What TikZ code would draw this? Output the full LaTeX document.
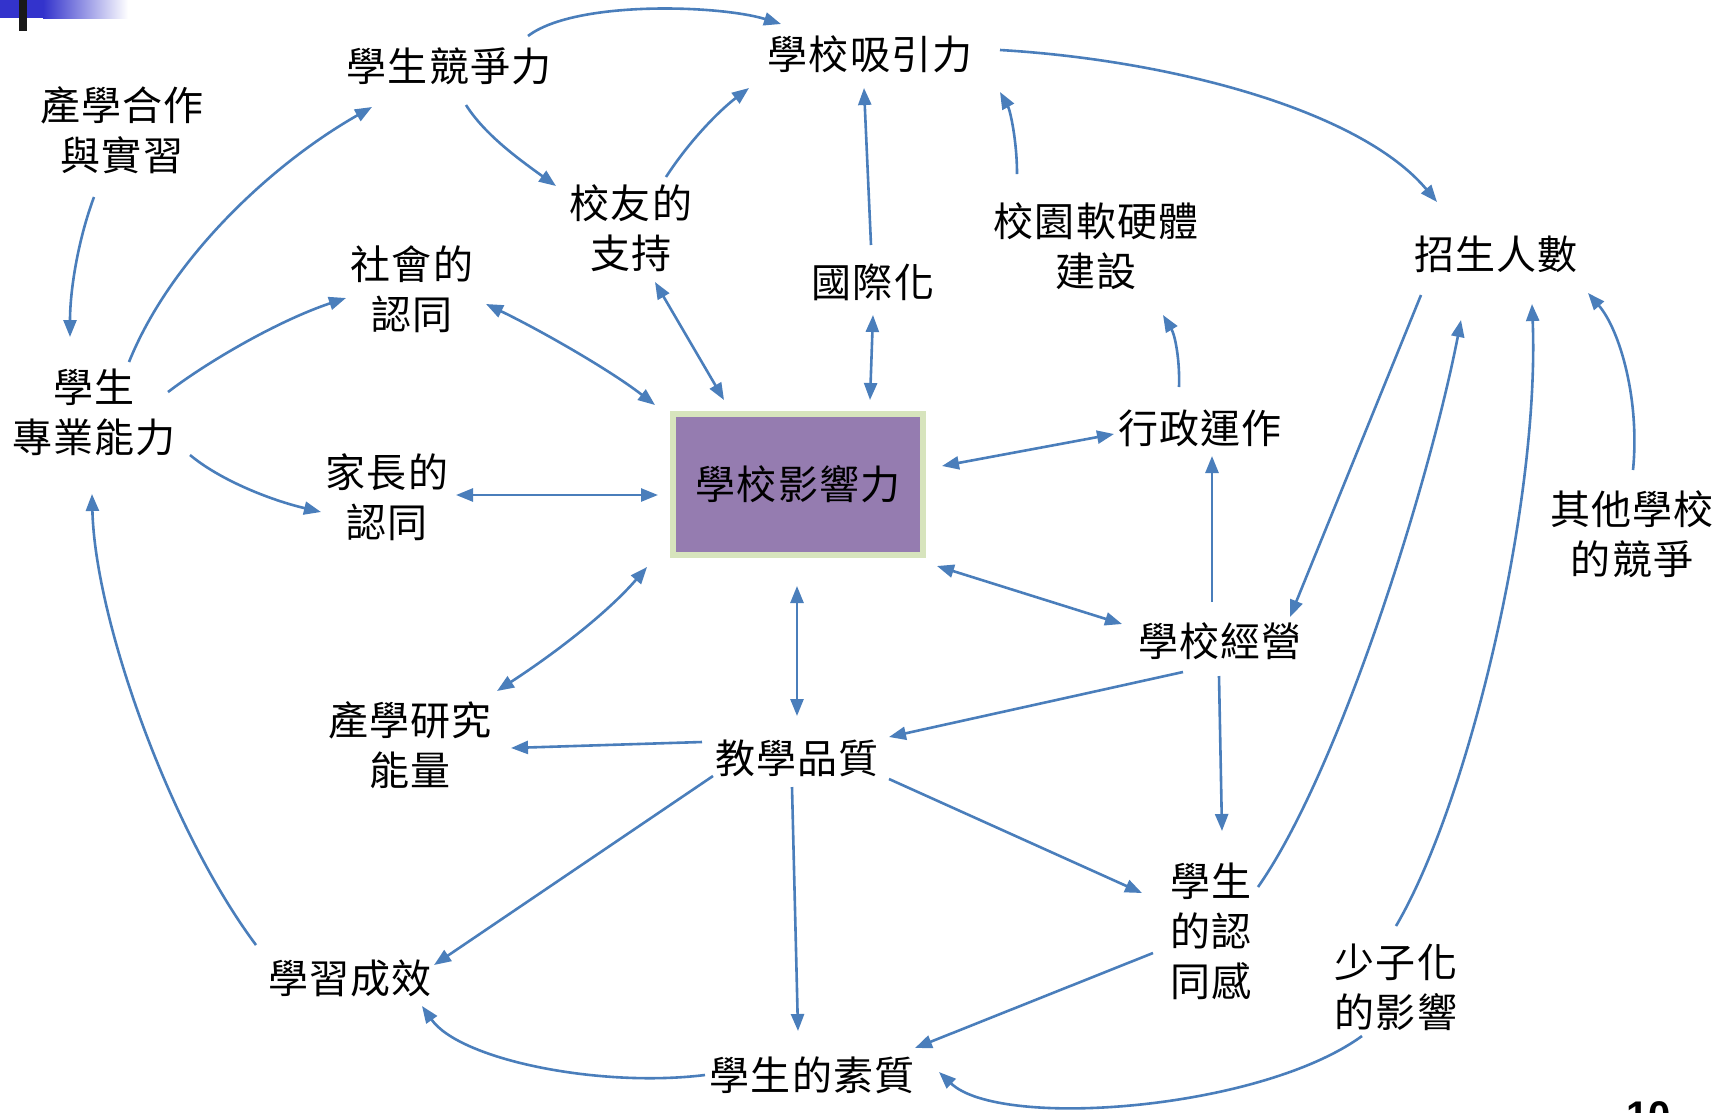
\documentclass[tikz,border=0pt]{standalone}
\usepackage{fontspec}
\newfontfamily\cjk[LetterSpace=3]{Noto Sans CJK TC}
\newfontfamily\numfont{Liberation Sans}
\usetikzlibrary{arrows.meta,calc}
\definecolor{arr}{RGB}{74,126,187}
\definecolor{boxfill}{RGB}{149,124,176}
\definecolor{boxborder}{RGB}{215,228,189}
\definecolor{barblue}{RGB}{51,51,204}
\begin{document}
\begin{tikzpicture}[x=1pt,y=-1pt,
  lbl/.style={font=\cjk\fontsize{40}{50}\selectfont, align=center, inner sep=0pt},
  con/.style={draw=arr, line width=2.6pt, -{Triangle[length=17pt,width=13pt]}},
  bi/.style={draw=arr, line width=2.6pt, {Triangle[length=17pt,width=13pt]}-{Triangle[length=17pt,width=13pt]}},
  centralbox/.style={lbl, draw=boxborder, line width=6pt, fill=boxfill, minimum width=250pt, minimum height=141pt}]
\useasboundingbox (0,0) rectangle (1733,1112);
% decoration top-left
\fill[barblue] (0,0) rectangle (44,18);
\shade[left color=barblue, right color=white] (43,0) rectangle (128,18);
\fill[black!90] (19,0) rectangle (27,31);
% page number
\node[font=\numfont\bfseries\fontsize{40}{48}\selectfont, anchor=base west, inner sep=0pt] (pg) at (1626,1129) {10};
% nodes
\node[lbl] (ca) at (122,130) {產學合作\\與實習};
\node[lbl] (jz) at (449,66) {學生競爭力};
\node[lbl] (xy) at (870,54) {學校吸引力};
\node[lbl] (xs) at (631,228) {校友的\\支持};
\node[lbl] (sh) at (412,289) {社會的\\認同};
\node[lbl] (gj) at (873,282) {國際化};
\node[lbl] (yr) at (1096,246) {校園軟硬體\\建設};
\node[lbl] (zs) at (1496,254) {招生人數};
\node[lbl] (zy) at (94,412) {學生\\專業能力};
\node[lbl] (jc) at (387,497) {家長的\\認同};
\node[centralbox] (box) at (798,484) {學校影響力};
\node[lbl] (xz) at (1200,428) {行政運作};
\node[lbl] (qt) at (1632,534) {其他學校\\的競爭};
\node[lbl] (jy) at (1220,641) {學校經營};
\node[lbl] (yj) at (410,745) {產學研究\\能量};
\node[lbl] (jx) at (797,758) {教學品質};
\node[lbl] (rt) at (1211,931) {學生\\的認\\同感};
\node[lbl] (sz) at (1396,987) {少子化\\的影響};
\node[lbl] (xx) at (350,978) {學習成效};
\node[lbl] (sq) at (812,1075) {學生的素質};
% connectors
\draw[con] ($(jz)+(79,-30)$) .. controls (575,0) and (720,5) .. ($(xy)+(-89,-30)$);
\draw[con] ($(jz)+(17,39)$) .. controls (485,135) and (520,160) .. ($(xs)+(-75,-42)$);
\draw[con] ($(ca)+(-28,67)$) .. controls (78,240) and (70,290) .. ($(zy)+(-24,-75)$);
\draw[con] ($(zy)+(35,-50)$) .. controls (170,260) and (270,165) .. ($(jz)+(-77,41)$);
\draw[con] ($(zy)+(74,-20)$) .. controls (210,360) and (280,320) .. ($(sh)+(-66,9)$);
\draw[con] ($(zy)+(96,43)$) .. controls (220,480) and (270,500) .. ($(jc)+(-66,15)$);
\draw[bi] ($(sh)+(74,15)$) .. controls (540,330) and (610,370) .. ($(box)+(-143,-79)$);
\draw[bi] ($(xs)+(24,54)$) -- ($(box)+(-74,-84)$);
\draw[con] ($(xs)+(35,-51)$) .. controls (690,140) and (720,110) .. ($(xy)+(-121,34)$);
\draw[con] ($(gj)+(-2,-37)$) -- ($(xy)+(-6,34)$);
\draw[bi] ($(gj)+(0,33)$) -- ($(box)+(72,-84)$);
\draw[con] ($(yr)+(-79,-72)$) .. controls (1017,140) and (1010,110) .. ($(xy)+(130,38)$);
\draw[con] ($(xy)+(130,-4)$) .. controls (1170,60) and (1360,110) .. ($(zs)+(-59,-52)$);
\draw[bi] ($(jc)+(69,-2)$) -- ($(box)+(-140,11)$);
\draw[bi] ($(box)+(144,-18)$) -- ($(xz)+(-86,6)$);
\draw[con] ($(xz)+(-21,-41)$) .. controls (1180,360) and (1175,335) .. ($(yr)+(67,69)$);
\draw[con] ($(jy)+(-8,-39)$) -- ($(xz)+(12,28)$);
\draw[con] ($(zs)+(-75,41)$) -- ($(jy)+(70,-24)$);
\draw[bi] ($(box)+(139,82)$) -- ($(jy)+(-98,-17)$);
\draw[bi] ($(box)+(-1,102)$) -- ($(jx)+(0,-42)$);
\draw[bi] ($(yj)+(87,-54)$) .. controls (560,650) and (610,610) .. ($(box)+(-151,83)$);
\draw[con] ($(jx)+(-95,-16)$) -- ($(yj)+(101,3)$);
\draw[con] ($(jy)+(-37,31)$) -- ($(jx)+(92,-21)$);
\draw[con] ($(jy)+(-1,35)$) -- ($(rt)+(11,-100)$);
\draw[con] ($(jx)+(92,21)$) -- ($(rt)+(-69,-38)$);
\draw[con] ($(jx)+(-84,18)$) -- ($(xx)+(84,-13)$);
\draw[con] ($(jx)+(-5,29)$) -- ($(sq)+(-14,-44)$);
\draw[con] ($(rt)+(-58,22)$) -- ($(sq)+(103,-27)$);
\draw[con] ($(sq)+(-107,0)$) .. controls (600,1088) and (460,1060) .. ($(xx)+(72,28)$);
\draw[con] ($(xx)+(-94,-33)$) .. controls (170,830) and (95,620) .. ($(zy)+(-2,82)$);
\draw[con] ($(rt)+(47,-44)$) .. controls (1340,770) and (1430,480) .. ($(zs)+(-35,66)$);
\draw[con] ($(sz)+(0,-61)$) .. controls (1470,800) and (1540,500) .. ($(zs)+(36,50)$);
\draw[con] ($(qt)+(1,-64)$) .. controls (1640,400) and (1620,330) .. ($(zs)+(92,39)$);
\draw[con] ($(sz)+(-34,49)$) .. controls (1260,1110) and (1000,1130) .. ($(sq)+(127,-3)$);
\end{tikzpicture}
\end{document}
